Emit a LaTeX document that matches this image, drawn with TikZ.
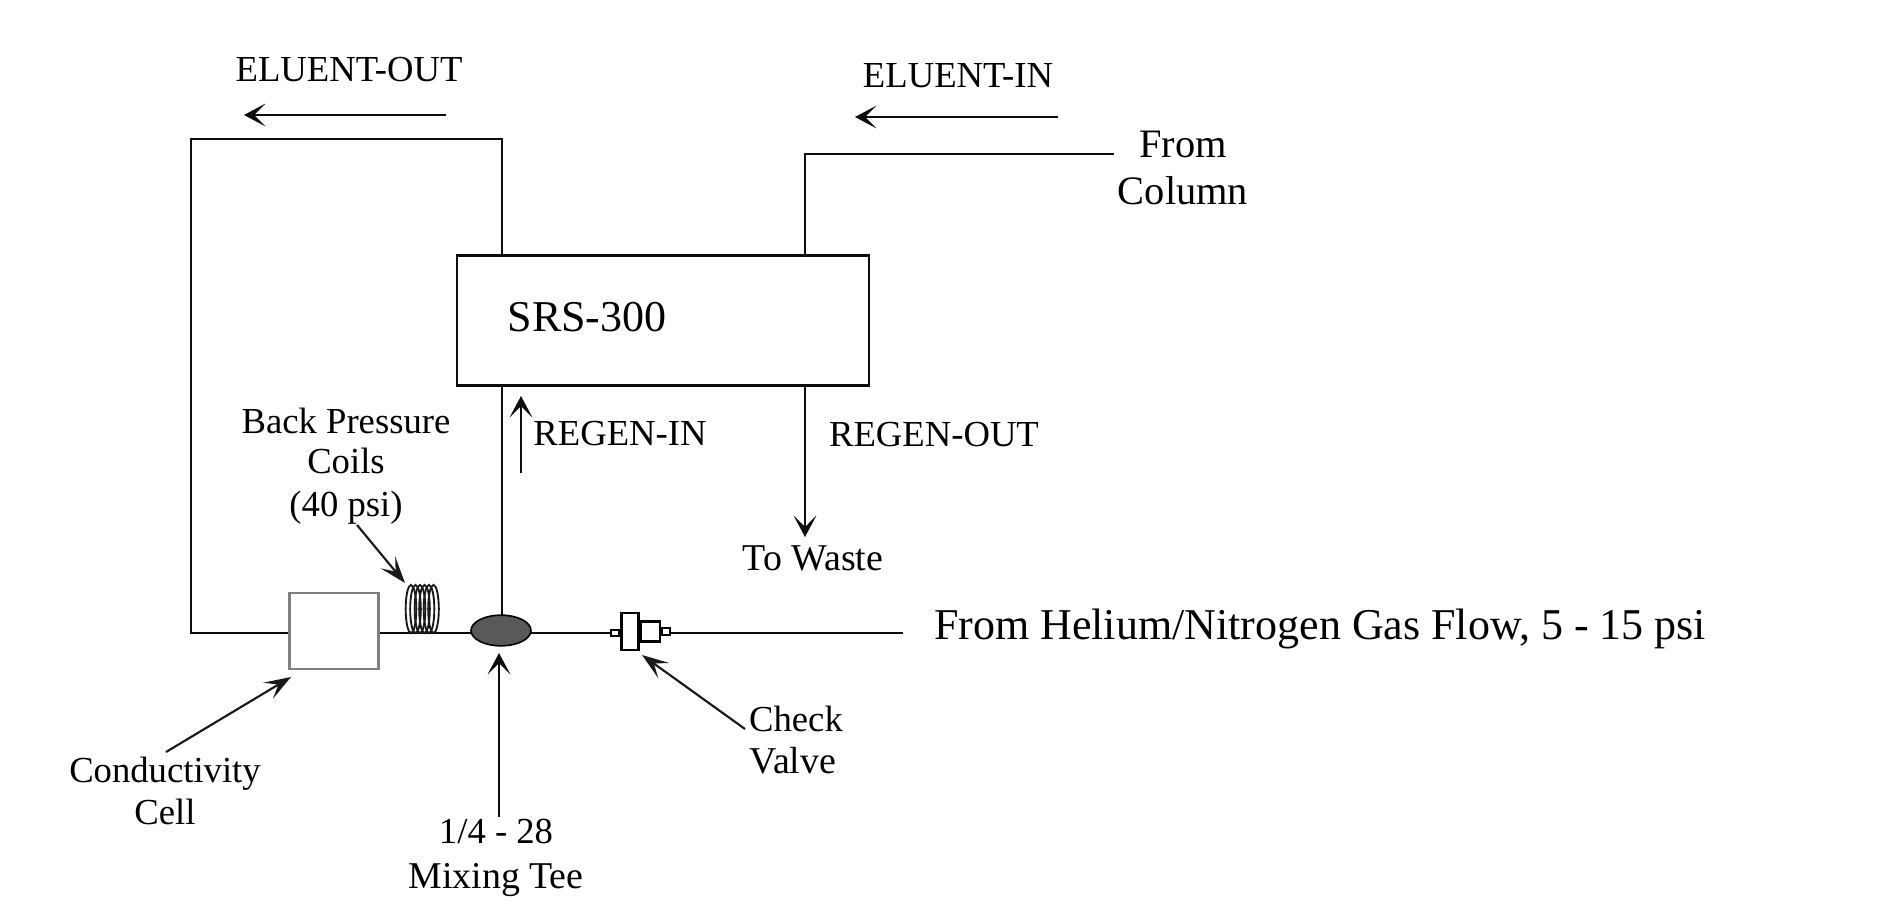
\documentclass[tikz,border=0pt]{standalone}
\usepackage{fontspec}
\setmainfont{Liberation Serif}
\usetikzlibrary{arrows.meta,shapes.geometric}
\tikzset{
  x=0.75pt,y=-0.75pt,
  pipe/.style={line width=2.2pt,black!95,line join=miter},
  flow/.style={line width=2.2pt,black!95,-{Stealth[length=16pt,width=17pt,inset=8.5pt]}},
  lead/.style={line width=1.6pt,black!90,-{Stealth[length=20pt,width=14pt,inset=9pt]}},
  lab/.style={inner sep=0pt,font=\fontsize{27.5pt}{30pt}\selectfont,text=black},
  labw/.style={inner sep=0pt,font=\fontsize{28.4pt}{30pt}\selectfont,text=black},
  labc/.style={inner sep=0pt,font=\fontsize{30.3pt}{30pt}\selectfont,text=black},
  big/.style={inner sep=0pt,font=\fontsize{33pt}{36pt}\selectfont,text=black},
  part/.style={draw=black,line width=1.9pt,fill=white,inner sep=0pt},
}
\begin{document}
\begin{tikzpicture}
\useasboundingbox (0,0) rectangle (1884,923);
\fill[white] (0,0) rectangle (1884,923);
% free ends
\coordinate (gas) at (903,633);
\coordinate (col) at (1114,154);
\coordinate (outtop) at (502,139);
\coordinate (outleft) at (191,139);
\coordinate (outbot) at (191,633);
\coordinate (intop) at (805,154);
\coordinate (teetop) at (502,617);
\coordinate (coil) at (423,609);
% main parts
\node[draw=black!95,line width=2.2pt,minimum width=309pt,minimum height=98pt,inner sep=0pt] (srs) at (663,320.5) {};
\node[big,anchor=base] (srslab) at (587,332) {SRS-300};
% pipes
\draw[pipe] (outtop |- srs.north) -- (outtop) -- (outleft) -- (outbot) -- (334,633);
\draw[pipe] (col) -- (intop) -- (intop |- srs.north);
\draw[pipe] (teetop |- srs.south) -- (teetop);
\draw[pipe] (334,633) -- (501,633);
\draw[pipe] (501,633) -- (gas);
\draw[flow] (intop |- srs.south) -- (805,537);
% parts over the pipes
\node[draw=black!50,line width=2.2pt,fill=white,minimum width=67pt,minimum height=57pt,inner sep=0pt] (cell) at (334,631) {};
\node[draw=black,line width=1.2pt,fill=black!65,ellipse,minimum width=45pt,minimum height=23pt,inner sep=0pt] (tee) at (501,630.5) {};
\node[part,line width=1.5pt,minimum width=6pt,minimum height=5pt,anchor=east] (stubl) at (620,633) {};
\node[part,minimum width=13pt,minimum height=28pt,anchor=west] (valve) at (620,631.5) {};
\node[part,minimum width=14pt,minimum height=15pt,anchor=west] (valveb) at (valve.east) {};
\node[part,line width=1.5pt,minimum width=6pt,minimum height=5pt,anchor=west] (stubr) at (valveb.east) {};
% coil
\foreach \dx in {-12,-7.5,-3,1.5,6,10.5}{
  \draw[line width=1.4pt,black!90] ([xshift=\dx*0.75pt]coil) ellipse (4pt and 18pt);
}
% flow arrows
\coordinate (eo1) at (446,115); \coordinate (eo2) at (244,115);
\coordinate (ei1) at (1058,117); \coordinate (ei2) at (855,117);
\coordinate (ri1) at (521,473); \coordinate (ri2) at (521,396);
\draw[flow] (eo1) -- (eo2);
\draw[flow] (ei1) -- (ei2);
\draw[flow] (ri1) -- (ri2);
% leaders
\coordinate (bp) at (357,525); \coordinate (bpt) at (405,583);
\coordinate (cc) at (166,752); \coordinate (cct) at (291,677);
\coordinate (cv) at (745,729); \coordinate (cvt) at (642,655);
\coordinate (mt) at (499,817); \coordinate (mtt) at (499,653);
\draw[lead] (bp) -- (bpt);
\draw[lead] (cc) -- (cct);
\draw[lead] (cv) -- (cvt);
\draw[flow] (mt) -- (mtt);
% labels
\node[lab,anchor=base] (l1) at (349,81.5) {ELUENT-OUT};
\node[lab,anchor=base] (l2) at (958,87.5) {ELUENT-IN};
\node[labc,anchor=base] (l3) at (1183,158) {From};
\node[labc,anchor=base] (l4) at (1183,205) {Column};
\node[lab,anchor=base] (l5) at (346,433.5) {Back Pressure};
\node[lab,anchor=base] (l6) at (346,473.5) {Coils};
\node[lab,anchor=base] (l7) at (346,516.5) {(40 psi)};
\node[lab,anchor=base] (l8) at (620,445) {REGEN-IN};
\node[lab,anchor=base] (l9) at (934,446) {REGEN-OUT};
\node[labw,anchor=base] (l10) at (813,570) {To Waste};
\node[big,anchor=base] (l11) at (1320,639.5) {From Helium/Nitrogen Gas Flow, 5 - 15 psi};
\node[lab,anchor=base] (l12) at (796,731.5) {Check};
\node[labw,anchor=base] (l13) at (793,773) {Valve};
\node[lab,anchor=base] (l14) at (165,782) {Conductivity};
\node[lab,anchor=base] (l15) at (165,824) {Cell};
\node[lab,anchor=base] (l16) at (496,843) {1/4 - 28};
\node[labw,anchor=base] (l17) at (496,888) {Mixing Tee};
\end{tikzpicture}
\end{document}
